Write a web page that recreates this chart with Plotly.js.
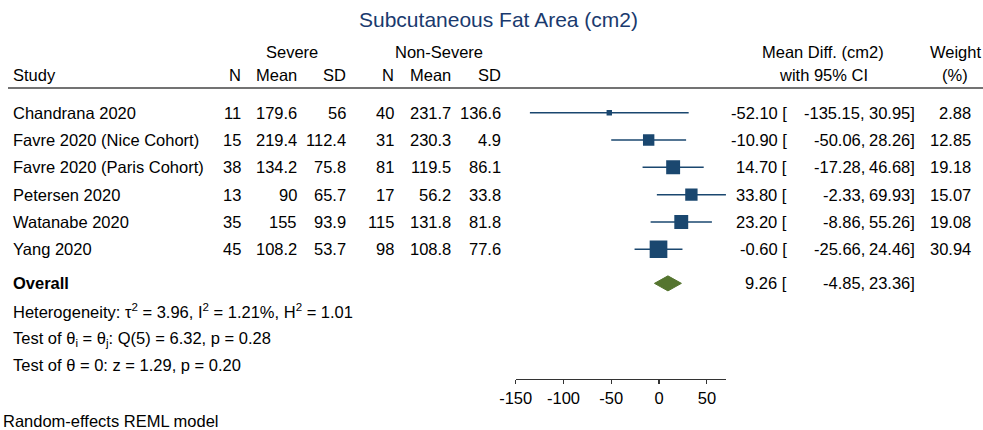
<!DOCTYPE html>
<html><head><meta charset="utf-8">
<script src="https://cdn.plot.ly/plotly-3.0.1.min.js"></script>
<style>html,body{margin:0;padding:0;background:#fff;}</style>
</head><body><div id="chart" style="width:983px;height:430px;"></div>
<script>
const studies = ["Chandrana 2020","Favre 2020 (Nice Cohort)","Favre 2020 (Paris Cohort)","Petersen 2020","Watanabe 2020","Yang 2020"];
const sevN = ["11","15","38","13","35","45"];
const sevMean = ["179.6","219.4","134.2","90","155","108.2"];
const sevSD = ["56","112.4","75.8","65.7","93.9","53.7"];
const nonN = ["40","31","81","17","115","98"];
const nonMean = ["231.7","230.3","119.5","56.2","131.8","108.8"];
const nonSD = ["136.6","4.9","86.1","33.8","81.8","77.6"];
const md = [-52.10,-10.90,14.70,33.80,23.20,-0.60];
const lo = [-135.15,-50.06,-17.28,-2.33,-8.86,-25.66];
const hi = [30.95,28.26,46.68,69.93,55.26,24.46];
const weight = [2.88,12.85,19.18,15.07,19.08,30.94];
const overall = {md:9.26, lo:-4.85, hi:23.36};
const tickVals = [-150,-100,-50,0,50];
const hetText = ["Heterogeneity: τ<sup>2</sup> = 3.96, I<sup>2</sup> = 1.21%, H<sup>2</sup> = 1.01",
                 "Test of θ<sub>i</sub> = θ<sub>j</sub>: Q(5) = 6.32, p = 0.28",
                 "Test of θ = 0: z = 1.29, p = 0.20"];
const titleText = "Subcutaneous Fat Area (cm2)";
const noteText = "Random-effects REML model";

const W = 983, H = 430;
const FONT = "Liberation Sans, Arial, sans-serif";
const FS = 16.5;
const navy = "#1a476f", green = "#55752f", txt = "#000";
const px = p => p / W;
const fmt = v => v.toFixed(2);

const rows = studies.map((_, i) => i);
const overallRow = 6.25;

const anns = [];
function add(text, xpx, y, anchor, opts) {
  anns.push(Object.assign({text: text, x: px(xpx), xref: 'paper', y: y, yref: 'y',
    xanchor: anchor, yanchor: 'middle', showarrow: false, borderpad: 0,
    font: {family: FONT, size: FS, color: txt}}, opts || {}));
}
// Title
add(titleText, 498, -3.42, 'center', {font: {family: FONT, size: 21, color: '#1a3a6e'}});
// Headers
add("Severe", 291.5, -2.22, 'center');
add("Non-Severe", 439, -2.22, 'center');
add("Mean Diff. (cm2)", 823, -2.22, 'center');
add("Weight", 955, -2.22, 'center');
add("Study", 12, -1.38, 'left');
const colX = [242, 298, 347, 395, 452, 502];
["N","Mean","SD","N","Mean","SD"].forEach((h, j) => add(h, colX[j], -1.38, 'right'));
add("with 95% CI", 823, -1.38, 'center');
add("(%)", 955, -1.38, 'center');
// Rows
const cols = [sevN, sevMean, sevSD, nonN, nonMean, nonSD];
rows.forEach(i => {
  add(studies[i], 12, i, 'left');
  cols.forEach((c, j) => add(c[i], colX[j], i, 'right'));
  add(fmt(md[i]) + " [", 788, i, 'right');
  add(fmt(lo[i]) + ",", 866, i, 'right');
  add(fmt(hi[i]) + "]", 916, i, 'right');
  add(weight[i].toFixed(2), 972, i, 'right');
});
add("<b>Overall</b>", 12, overallRow, 'left');
add(fmt(overall.md) + " [", 788, overallRow, 'right');
add(fmt(overall.lo) + ",", 866, overallRow, 'right');
add(fmt(overall.hi) + "]", 916, overallRow, 'right');
hetText.forEach((t, k) => add(t, 12, [7.25, 8.28, 9.24][k], 'left'));
add(noteText, 2, 11.28, 'left');

const studyTrace = {
  type: 'scatter', mode: 'markers', x: md, y: rows,
  marker: {symbol: 'square', color: navy, opacity: 1, size: weight.map(w => 3.18 * Math.sqrt(w)), line: {width: 0}},
  error_x: {type: 'data', symmetric: false,
    array: hi.map((h, i) => h - md[i]), arrayminus: lo.map((l, i) => md[i] - l),
    width: 0, thickness: 1.5, color: navy},
  hoverinfo: 'skip', showlegend: false
};
const dh = 0.275;
const diamond = {
  type: 'scatter', mode: 'lines',
  x: [overall.lo, overall.md, overall.hi, overall.md, overall.lo],
  y: [overallRow, overallRow - dh, overallRow, overallRow + dh, overallRow],
  fill: 'toself', fillcolor: green, line: {color: green, width: 1},
  hoverinfo: 'skip', showlegend: false
};

const layout = {
  width: W, height: H, margin: {l: 0, r: 0, t: 0, b: 0},
  paper_bgcolor: '#fff', plot_bgcolor: 'rgba(0,0,0,0)',
  showlegend: false,
  xaxis: {domain: [515.7 / W, 726 / W], range: [-150, 70], anchor: 'free', position: 1 - 379 / H,
    showline: true, linecolor: '#333', linewidth: 1.2, ticks: 'outside', ticklen: 4, tickwidth: 1.2,
    tickcolor: '#333', tickvals: tickVals, ticktext: tickVals.map(String), showgrid: false, zeroline: false,
    tickfont: {family: FONT, size: FS, color: txt}, fixedrange: true},
  yaxis: {domain: [0, 1], range: [11.62, -4.128], visible: false, showgrid: false, zeroline: false, fixedrange: true},
  shapes: [{type: 'line', xref: 'paper', yref: 'y', x0: px(8), x1: 1, y0: -0.905, y1: -0.905,
    line: {color: '#444', width: 1.5}}],
  annotations: anns
};
Plotly.newPlot('chart', [studyTrace, diamond], layout, {staticPlot: true, displayModeBar: false});
</script></body></html>
